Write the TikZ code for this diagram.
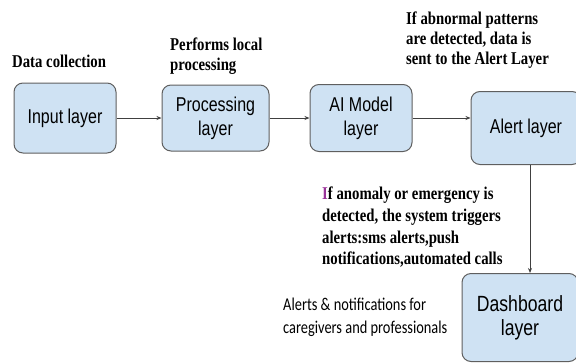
\documentclass[tikz,border=0pt]{standalone}
\usepackage{fontspec}
\setmainfont{Liberation Serif}
\newfontfamily\boxfont[FakeStretch=0.8]{Liberation Sans}
\newfontfamily\notefont[FakeStretch=0.82]{Liberation Serif}
\newfontfamily\capfont[FakeStretch=0.8]{Carlito}
\usetikzlibrary{positioning,arrows.meta}
\definecolor{boxfill}{HTML}{CFE2F3}
\definecolor{boxline}{HTML}{5F5F5F}
\definecolor{arrline}{HTML}{404040}

\begin{document}
\begin{tikzpicture}[x=1pt,y=-1pt,
  layer/.style={draw=boxline,fill=boxfill,rounded corners=9pt,line width=1pt,
    align=center,inner sep=0pt,font=\boxfont\fontsize{20}{24}\selectfont},
  note/.style={align=left,inner sep=0pt,font=\notefont\bfseries\fontsize{18}{20}\selectfont},
  arr/.style={draw=arrline,line width=0.9pt,-{Stealth[length=5pt,width=4pt]}}]
 \useasboundingbox (0,0) rectangle (576,362);
 % layers
 \node[layer,minimum width=102pt,minimum height=70pt] (input) at (65,118) {Input layer};
 \node[layer,minimum width=107pt,minimum height=66pt,right=45pt of input] (proc)
  {Processing\\layer};
 \node[layer,minimum width=102pt,minimum height=67pt,right=40pt of proc] (aimodel)
  {AI Model\\layer};
 \node[layer,minimum width=110pt,minimum height=73pt,right=58pt of aimodel,yshift=-10pt] (alert)
  {Alert layer};
 \node[layer,minimum width=116pt,minimum height=88pt,below=108pt of alert,xshift=-6pt,
  font=\boxfont\fontsize{22}{24}\selectfont] (dash) {Dashboard\\layer};
 % notes
 \node[note,anchor=west] (collect) at (12,61) {Data collection};
 \node[note,anchor=north west] (local) at (170,38) {Performs local\\processing};
 \node[note,anchor=north west] (abnormal) at (406,12)
  {If abnormal patterns\\are detected, data is\\sent to the Alert Layer};
 \node[note,anchor=north west,font=\notefont\bfseries\fontsize{18}{21.7}\selectfont] (anomaly) at (322,187)
  {\textcolor{violet!80}{I}f anomaly or emergency is\\detected, the system triggers\\alerts:sms alerts,push\\notifications,automated calls};
 \node[anchor=north west,align=left,inner sep=0pt,font=\capfont\fontsize{18}{23}\selectfont] (audience) at (283,298)
  {Alerts \& notifications for\\caregivers and professionals};
 % connectors
 \draw[arr] (input.east) -- (input.east -| proc.west);
 \draw[arr] (proc.east) -- (proc.east -| aimodel.west);
 \draw[arr] (aimodel.east) -- (aimodel.east -| alert.west);
 \draw[arr] ([xshift=4pt]alert.south) -- ([xshift=4pt]alert.south |- dash.north);
\end{tikzpicture}
\end{document}
